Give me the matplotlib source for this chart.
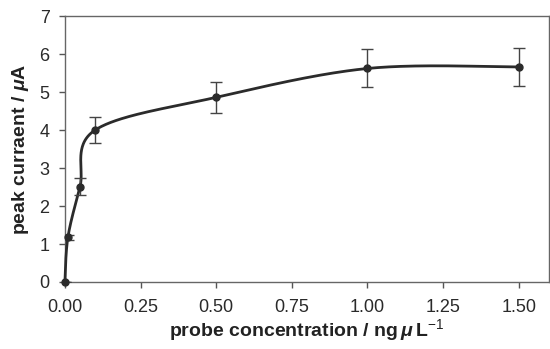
import numpy as np
import matplotlib.pyplot as plt

plt.rcParams['font.family'] = ['Liberation Sans', 'DejaVu Sans']
plt.rcParams['mathtext.fontset'] = 'custom'
plt.rcParams['mathtext.rm'] = 'Liberation Sans'
plt.rcParams['mathtext.it'] = 'Liberation Sans:italic:bold'

# data
conc = [0.0, 0.01, 0.05, 0.10, 0.50, 1.00, 1.50]
current = [0.0, 1.18, 2.51, 4.00, 4.86, 5.62, 5.66]
err = [0.0, 0.07, 0.22, 0.34, 0.41, 0.50, 0.50]
xticks = [0.00, 0.25, 0.50, 0.75, 1.00, 1.25, 1.50]

fig = plt.figure(figsize=(5.5, 3.49), dpi=100)
ax = fig.add_axes([0.118, 0.192, 0.88, 0.762])
ax.set_xlim(0, 1.6)
ax.set_ylim(0, 7)


# Excel-like smoothed line (Catmull-Rom -> cubic Bezier) in display space
def smooth_line(ax, xs, ys, n=60):
    pts = ax.transData.transform(np.column_stack([xs, ys]))
    out = []
    for i in range(len(pts) - 1):
        p0 = pts[max(i - 1, 0)]
        p1 = pts[i]
        p2 = pts[i + 1]
        p3 = pts[min(i + 2, len(pts) - 1)]
        c1 = p1 + (p2 - p0) / 6.0
        c2 = p2 - (p3 - p1) / 6.0
        t = np.linspace(0, 1, n)[:, None]
        seg = ((1 - t) ** 3 * p1 + 3 * (1 - t) ** 2 * t * c1
               + 3 * (1 - t) * t ** 2 * c2 + t ** 3 * p2)
        out.append(seg)
    out = np.vstack(out)
    return ax.transData.inverted().transform(out)


curve = smooth_line(ax, conc, current)
ax.plot(curve[:, 0], curve[:, 1], color='#2b2b2b', lw=2.0, zorder=3,
        clip_on=False)
eb = ax.errorbar(conc, current, yerr=err, fmt='o', color='#2b2b2b', ms=5,
                 ecolor='#444444', elinewidth=1.0, capsize=4, capthick=1.0,
                 zorder=4)
eb.lines[0].set_clip_on(False)

ax.set_xticks(xticks)
ax.set_xticklabels([f'{v:.2f}' for v in xticks])
ax.set_yticks(range(8))
ax.tick_params(direction='out', length=4, width=1, color='#555555',
               labelsize=13, labelcolor='#2a2a2a')
ax.tick_params(axis='x', pad=8)
ax.tick_params(axis='y', pad=7)
for s in ax.spines.values():
    s.set_color('#666666')
    s.set_linewidth(1.0)

ax.set_xlabel(r'probe concentration / ng$\,\mu\,$L$^{-1}$', fontsize=14,
              fontweight='bold', color='#222222', labelpad=1)
ax.set_ylabel(r'peak curraent / $\mathit{\mu}$A', fontsize=14,
              fontweight='bold', color='#222222', labelpad=6)

fig.savefig('out.png', dpi=100)
